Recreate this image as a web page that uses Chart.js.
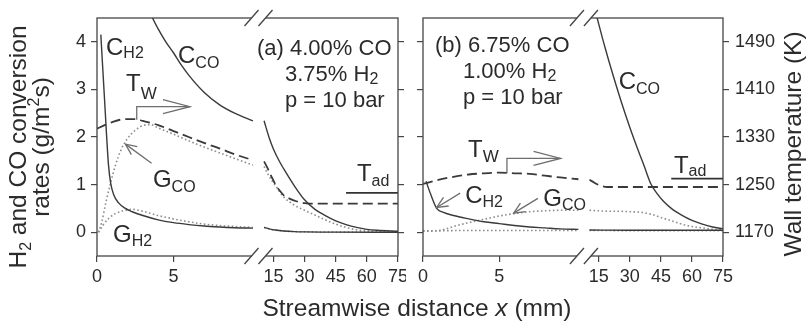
<!DOCTYPE html>
<html>
<head>
<meta charset="utf-8">
<script src="https://cdn.jsdelivr.net/npm/chart.js@4.4.1/dist/chart.umd.min.js"></script>
<style>
  html, body { margin: 0; padding: 0; background: #fff; }
  #figure { position: relative; width: 806px; height: 327px; overflow: hidden;
            font-family: 'Liberation Sans', Arial, sans-serif; color: #2b2b2b; }
  #figure canvas { position: absolute; top: 0; }
  #panelA { left: 0; }
  #panelB { left: 415px; }
  .title { position: absolute; font-size: 24.5px; text-align: center; white-space: nowrap; }
  .title sub, .title sup { font-size: 16px; line-height: 0; position: relative; vertical-align: baseline; }
  .title sub { top: 5px; }
  .title sup { top: -10px; }
  #xTitle { left: 217px; width: 400px; top: 294px; line-height: 28px; }
  #yTitle { left: -121.5px; width: 300px; top: 124px; line-height: 23px; transform: rotate(-90deg); }
  #y2Title { left: 643px; width: 300px; top: 131.5px; line-height: 24px; transform: rotate(-90deg); }
</style>
</head>
<body>
<div id="figure">
  <canvas id="panelA" width="406" height="327"></canvas>
  <canvas id="panelB" width="391" height="327"></canvas>
  <div class="title" id="yTitle">H<sub>2</sub> and CO conversion<br>rates (g/m<sup>2</sup>s)</div>
  <div class="title" id="y2Title">Wall temperature (K)</div>
  <div class="title" id="xTitle">Streamwise distance <i>x</i> (mm)</div>
</div>
<script>
// distances in mm, rates in g/m2s, wall temperatures in K
const distanceTicks = [0, 5, 15, 30, 45, 60, 75];
const rateTicks = [0, 1, 2, 3, 4];
const tempTicks = [1170, 1250, 1330, 1410, 1490];

// (a) 4.00% CO / 3.75% H2 -- "Near" is 0-10 mm, "Far" is 10-75 mm
const aCH2Near = [[0.25, 4.15], [0.5, 2.75], [0.75, 1.42], [0.9, 1.02], [1.1, 0.78], [1.4, 0.62], [1.8, 0.51], [2.3, 0.43], [3, 0.35], [4, 0.26], [5, 0.2], [6, 0.16], [7, 0.13], [8, 0.11], [9, 0.095], [10.2, 0.085]];
const aCH2Far = [[10.5, 0.1], [13, 0.07], [16, 0.045], [20, 0.025], [25, 0.012], [30, 0.006], [45, 0.002], [75, 0]];
const aCCONear = [[3.4, 4.65], [4, 4.27], [4.5, 4.0], [5, 3.77], [5.5, 3.52], [6, 3.3], [7, 2.94], [8, 2.68], [9, 2.5], [10.2, 2.34]];
const aCCOFar = [[10.5, 2.34], [13, 1.98], [15, 1.75], [18, 1.48], [20, 1.33], [25, 0.98], [30, 0.68], [35, 0.48], [40, 0.35], [45, 0.24], [50, 0.16], [55, 0.1], [60, 0.06], [65, 0.04], [75, 0.02]];
const aGCONear = [[0.1, 0], [0.3, 0.2], [0.6, 0.65], [0.9, 1.05], [1.2, 1.4], [1.6, 1.75], [2, 1.97], [2.5, 2.14], [3, 2.24], [3.5, 2.26], [4, 2.19], [5, 2.06], [6, 1.92], [7, 1.79], [8, 1.67], [9, 1.55], [10.2, 1.41]];
const aGCOFar = [[10.5, 1.38], [12, 1.25], [14, 1.1], [16, 0.98], [18, 0.85], [20, 0.74], [25, 0.57], [30, 0.46], [35, 0.36], [40, 0.26], [45, 0.17], [50, 0.1], [55, 0.05], [60, 0.03], [75, 0.01]];
const aGH2Near = [[0.1, 0], [0.4, 0.15], [0.8, 0.3], [1.2, 0.39], [1.7, 0.45], [2.3, 0.48], [3, 0.44], [4, 0.35], [5, 0.28], [6, 0.22], [7, 0.17], [8, 0.14], [9, 0.12], [10.2, 0.1]];
const aGH2Far = [[10.5, 0.1], [15, 0.05], [20, 0.025], [30, 0.008], [75, 0]];
const aTWNear = [[0, 1344], [0.5, 1350], [1, 1355], [1.5, 1359], [2, 1360], [2.5, 1360], [3, 1357], [4, 1350], [5, 1340], [6, 1330], [7, 1320], [8, 1311], [9, 1301], [10.2, 1291]];
const aTWFar = [[10.5, 1289], [12, 1279], [14, 1264], [16, 1250], [18, 1240], [20, 1232], [23, 1226], [26, 1222], [30, 1219], [35, 1218], [75, 1218]];
const aTad = [[50, 1236], [75, 1236]];

// (b) 6.75% CO / 1.00% H2
const bCH2Near = [[0.2, 1.07], [0.5, 0.8], [0.9, 0.5], [1.3, 0.42], [2, 0.35], [3, 0.28], [4, 0.22], [5, 0.18], [6, 0.14], [7, 0.11], [8, 0.09], [9, 0.07], [10.2, 0.06]];
const bCH2Far = [[10.5, 0.045], [30, 0.04], [75, 0.04]];
const bCCOFar = [[13, 4.7], [14.2, 4.5], [18, 3.88], [22, 3.28], [26, 2.72], [30, 2.2], [34, 1.72], [37, 1.38], [40, 1.03], [43, 0.82], [46, 0.66], [50, 0.5], [55, 0.36], [60, 0.25], [65, 0.17], [70, 0.11], [75, 0.07]];
const bGCONear = [[0, 0.02], [1, 0.03], [1.5, 0.07], [2, 0.12], [3, 0.2], [4, 0.27], [5, 0.34], [6, 0.39], [7, 0.43], [8, 0.45], [9, 0.46], [10.2, 0.46]];
const bGCOFar = [[10.5, 0.46], [15, 0.45], [20, 0.44], [25, 0.44], [30, 0.43], [35, 0.42], [40, 0.38], [45, 0.31], [50, 0.24], [55, 0.17], [60, 0.12], [65, 0.09], [70, 0.06], [75, 0.05]];
const bGH2Near = [[0, 0.03], [3, 0.035], [6, 0.035], [10.2, 0.035]];
const bGH2Far = [[10.5, 0.035], [75, 0.03]];
const bTWNear = [[0, 1251], [1, 1258], [2, 1263], [3, 1267], [4, 1269], [5, 1270], [6, 1269], [7, 1268], [8, 1265], [9, 1262], [10.2, 1259]];
const bTWFar = [[10.5, 1258], [12, 1255], [14, 1251], [16, 1248], [19, 1246], [75, 1246]];
const bTad = [[50, 1260], [75, 1260]];

const FONT = "'Liberation Sans', Arial, sans-serif";
const INK = '#2b2b2b';
const AXIS = '#454545';

// broken distance axis: 0-10.2 mm gets the left half, 10.5-75 mm is squeezed on the right
const NEAR_END = 10.2, FAR_START = 10.5, X_MAX = 75;
const NEAR_FRAC = 0.518, FAR_FRAC = 0.555;

class BrokenAxis extends Chart.LinearScale {
  static id = 'broken';
  getPixelForValue(v) {
    const d = v <= NEAR_END
      ? v / NEAR_END * NEAR_FRAC
      : FAR_FRAC + (v - FAR_START) / (X_MAX - FAR_START) * (1 - FAR_FRAC);
    return this.getPixelForDecimal(d);
  }
  getValueForPixel(px) {
    const d = this.getDecimalForPixel(px);
    return d <= NEAR_FRAC
      ? d / NEAR_FRAC * NEAR_END
      : FAR_START + (d - FAR_FRAC) / (1 - FAR_FRAC) * (X_MAX - FAR_START);
  }
}
Chart.register(BrokenAxis);

const solid = { borderColor: '#3a3a3a', borderWidth: 1.4 };
const dashed = { borderColor: '#3a3a3a', borderWidth: 1.8, borderDash: [10, 5] };
const dotted = { borderColor: '#8e8e8e', borderWidth: 1.6, borderDash: [1.6, 2.4] };
const adiabatic = { borderColor: '#333', borderWidth: 1.8 };

const curve = (points, style, axis = 'y') => ({
  data: points.map(([x, y]) => ({ x, y })),
  yAxisID: axis,
  pointRadius: 0,
  ...style
});

// annotation text, curve labels and pointer arrows for each panel
const decor = {
  panelA: {
    notes: [
      { dx: 160, dy: 37, main: '(a) 4.00% CO' },
      { dx: 188, dy: 63, main: '3.75% H', sub: '2' },
      { dx: 188, dy: 89, main: 'p = 10 bar' }
    ],
    labels: [
      { x: 0.59, y: 3.72, main: 'C', sub: 'H2', dy: 3 },
      { x: 5.3, y: 3.55, main: 'C', sub: 'CO', dy: 5 },
      { x: 1.9, y: 2.97, main: 'T', sub: 'W', dy: 8, subSize: 17 },
      { x: 3.66, y: 0.95, main: 'G', sub: 'CO', dy: 5 },
      { x: 1.05, y: -0.21, main: 'G', sub: 'H2', dy: 4 },
      { x: 55.2, y: 1.08, main: 'T', sub: 'ad', dy: 5 }
    ],
    arrows: [
      { axis: 'y2', path: [[2.6, 1359], [2.6, 1381], [6.08, 1381]], len: 27, half: 7 },
      { axis: 'y', path: [[3.57, 1.45], [1.86, 1.85]], len: 11, half: 5 }
    ]
  },
  panelB: {
    notes: [
      { dx: 12, dy: 34, main: '(b) 6.75% CO' },
      { dx: 40, dy: 60, main: '1.00% H', sub: '2' },
      { dx: 40, dy: 86, main: 'p = 10 bar' }
    ],
    labels: [
      { x: 24.6, y: 3.0, main: 'C', sub: 'CO', dy: 5 },
      { x: 2.96, y: 1.58, main: 'T', sub: 'W', dy: 5, subSize: 17 },
      { x: 2.77, y: 0.61, main: 'C', sub: 'H2', dy: 4 },
      { x: 7.9, y: 0.55, main: 'G', sub: 'CO', dy: 4 },
      { x: 51.3, y: 1.24, main: 'T', sub: 'ad', dy: 3 }
    ],
    arrows: [
      { axis: 'y2', path: [[5.51, 1269], [5.51, 1294], [9.03, 1294]], len: 27, half: 7 },
      { axis: 'y', path: [[2.44, 0.82], [0.9, 0.52]], len: 11, half: 5 },
      { axis: 'y', path: [[7.54, 0.71], [5.95, 0.4]], len: 11, half: 5 }
    ]
  }
};

function drawText(ctx, px, py, main, sub, size, subSize, dy) {
  ctx.font = `${size}px ${FONT}`;
  ctx.fillText(main, px, py);
  if (sub) {
    const w = ctx.measureText(main).width;
    ctx.font = `${subSize}px ${FONT}`;
    ctx.fillText(sub, px + w, py + dy);
  }
}

function drawArrow(ctx, pts, len, half) {
  ctx.beginPath();
  pts.forEach(([px, py], i) => (i ? ctx.lineTo(px, py) : ctx.moveTo(px, py)));
  ctx.stroke();
  const [tx, ty] = pts[pts.length - 1];
  const [fx, fy] = pts[pts.length - 2];
  const a = Math.atan2(ty - fy, tx - fx);
  const bx = tx - len * Math.cos(a), by = ty - len * Math.sin(a);
  ctx.beginPath();
  ctx.moveTo(bx - half * Math.sin(a), by + half * Math.cos(a));
  ctx.lineTo(tx, ty);
  ctx.lineTo(bx + half * Math.sin(a), by - half * Math.cos(a));
  ctx.stroke();
}

const panelDecor = {
  id: 'panelDecor',
  afterDraw(chart) {
    const { ctx, chartArea: area, scales } = chart;
    const spec = decor[chart.canvas.id];
    ctx.save();

    // frame with the axis-break marks top and bottom
    ctx.strokeStyle = AXIS;
    ctx.lineWidth = 1.3;
    ctx.strokeRect(area.left, area.top, area.right - area.left, area.bottom - area.top);
    const xm = (scales.x.getPixelForValue(NEAR_END) + scales.x.getPixelForValue(FAR_START)) / 2;
    [area.top, area.bottom].forEach(yb => {
      ctx.fillStyle = '#fff';
      ctx.fillRect(xm - 7, yb - 2, 14, 4);
      [xm - 7, xm + 7].forEach(cx => {
        ctx.beginPath();
        ctx.moveTo(cx - 7, yb + 8);
        ctx.lineTo(cx + 7, yb - 8);
        ctx.stroke();
      });
    });

    // pointer arrows
    ctx.strokeStyle = '#6e6e6e';
    ctx.lineWidth = 1.3;
    spec.arrows.forEach(a => {
      const pts = a.path.map(([x, y]) => [scales.x.getPixelForValue(x), scales[a.axis].getPixelForValue(y)]);
      drawArrow(ctx, pts, a.len, a.half);
    });

    // curve labels
    ctx.fillStyle = INK;
    ctx.textBaseline = 'alphabetic';
    ctx.textAlign = 'left';
    spec.labels.forEach(l => {
      drawText(ctx, scales.x.getPixelForValue(l.x), scales.y.getPixelForValue(l.y),
        l.main, l.sub, 24, l.subSize || 16, l.dy);
    });

    // operating conditions
    spec.notes.forEach(n => {
      drawText(ctx, area.left + n.dx, area.top + n.dy, n.main, n.sub, 22, 16, 3);
    });
    ctx.restore();
  }
};

const tickMarks = () => ({
  display: true, drawOnChartArea: false, drawTicks: true,
  tickLength: 6, color: AXIS, lineWidth: 1.2
});
const fixedTicks = values => scale => { scale.ticks = values.map(value => ({ value })); };

function panelChart(canvasId, datasets, labelSide) {
  const left = labelSide === 'left';
  return new Chart(document.getElementById(canvasId), {
    type: 'line',
    data: { datasets },
    options: {
      responsive: false,
      animation: false,
      events: [],
      layout: { padding: { top: 18, left: 0, right: 0, bottom: 0 } },
      plugins: { legend: { display: false }, tooltip: { enabled: false } },
      elements: { point: { radius: 0 }, line: { cubicInterpolationMode: 'monotone', fill: false } },
      scales: {
        x: {
          type: 'broken', min: 0, max: X_MAX,
          border: { display: false },
          grid: tickMarks(),
          ticks: { font: { family: FONT, size: 18 }, color: INK, padding: 4,
                   autoSkip: false, maxRotation: 0, callback: v => String(v) },
          afterBuildTicks: fixedTicks(distanceTicks),
          afterFit: s => { s.height = 71; s.paddingLeft = 0; s.paddingRight = 0; }
        },
        y: {
          position: 'left', min: -0.5, max: 4.5,
          border: { display: false },
          grid: tickMarks(),
          ticks: { display: left, font: { family: FONT, size: 18 }, color: INK, padding: 5,
                   callback: v => String(v) },
          afterBuildTicks: fixedTicks(rateTicks),
          afterFit: s => { s.width = left ? 97 : 8; s.paddingTop = 0; s.paddingBottom = 0; }
        },
        y2: {
          position: 'right', min: 1130, max: 1530,
          border: { display: false },
          grid: tickMarks(),
          ticks: { display: !left, font: { family: FONT, size: 18 }, color: INK, padding: 6,
                   callback: v => String(v) },
          afterBuildTicks: fixedTicks(tempTicks),
          afterFit: s => { s.width = left ? 8 : 83; s.paddingTop = 0; s.paddingBottom = 0; }
        }
      }
    },
    plugins: [panelDecor]
  });
}

panelChart('panelA', [
  curve(aCH2Near, solid), curve(aCH2Far, solid),
  curve(aCCONear, solid), curve(aCCOFar, solid),
  curve(aTWNear, dashed, 'y2'), curve(aTWFar, dashed, 'y2'),
  curve(aTad, adiabatic, 'y2'),
  curve(aGCONear, dotted), curve(aGCOFar, dotted),
  curve(aGH2Near, dotted), curve(aGH2Far, dotted)
], 'left');

panelChart('panelB', [
  curve(bCH2Near, solid), curve(bCH2Far, solid),
  curve(bCCOFar, solid),
  curve(bTWNear, dashed, 'y2'), curve(bTWFar, dashed, 'y2'),
  curve(bTad, adiabatic, 'y2'),
  curve(bGCONear, dotted), curve(bGCOFar, dotted),
  curve(bGH2Near, dotted), curve(bGH2Far, dotted)
], 'right');
</script>
</body>
</html>
